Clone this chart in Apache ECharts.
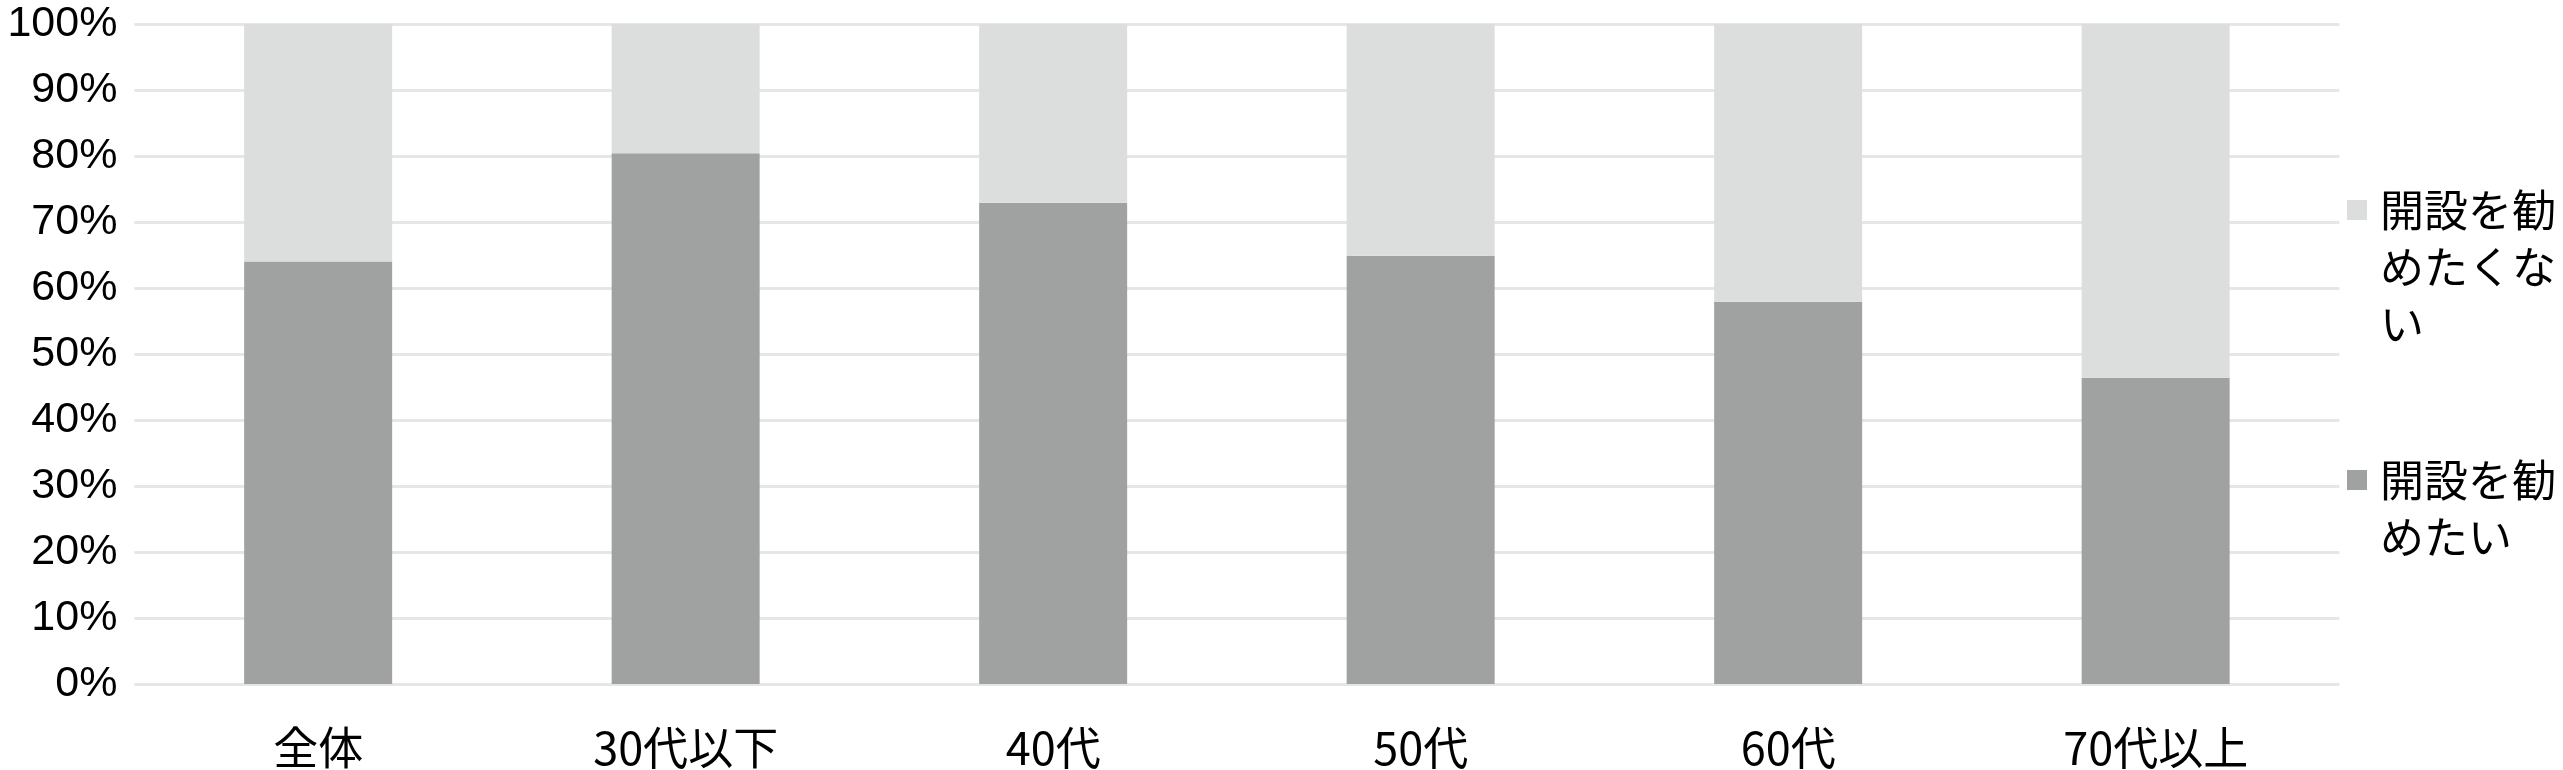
<!DOCTYPE html>
<html>
<head>
<meta charset="utf-8">
<script src="https://cdn.jsdelivr.net/npm/echarts@6/dist/echarts.min.js"></script>
<style>
html,body{margin:0;padding:0;background:#fff;}
#chart{width:2563px;height:770px;}
</style>
</head>
<body>
<div id="chart"></div>
<script>
const categories = ['全体', '30代以下', '40代', '50代', '60代', '70代以上'];
const recommendName = '開設を勧めたい';
const notRecommendName = '開設を勧めたくない';
const recommendValues = [64.0, 80.4, 72.9, 64.9, 57.9, 46.4];
const notRecommendValues = [36.0, 19.6, 27.1, 35.1, 42.1, 53.6];
const yTickMin = 0, yTickMax = 100, yTickStep = 10;

const darkGray = '#a0a2a1';
const lightGray = '#dcdedd';
const gridColor = '#e6e6e6';

const chart = echarts.init(document.getElementById('chart'), null, {renderer: 'canvas'});
const legendText = {
  fontFamily: '"Noto Sans CJK JP", sans-serif',
  fontSize: 44,
  color: '#000',
  lineHeight: 57,
  width: 182,
  overflow: 'breakAll',
  padding: [0, 0, 0, 8]
};
chart.setOption({
  animation: false,
  backgroundColor: '#ffffff',
  grid: {left: 134.4, right: 223.6, top: 24, bottom: 83.3, containLabel: false},
  legend: [
    {
      orient: 'vertical', left: 2347, top: 181.5, padding: 0,
      itemWidth: 20, itemHeight: 134,
      icon: 'path://M0,0L20,0L20,20L0,20Z M0,134',
      data: [notRecommendName],
      textStyle: legendText
    },
    {
      orient: 'vertical', left: 2347, top: 451.5, padding: 0,
      itemWidth: 20, itemHeight: 77,
      icon: 'path://M0,0L20,0L20,20L0,20Z M0,77',
      data: [recommendName],
      textStyle: legendText
    }
  ],
  xAxis: {
    type: 'category',
    data: categories,
    axisLine: {show: false},
    axisTick: {show: false},
    axisLabel: {
      margin: 41,
      color: '#000',
      fontFamily: '"Noto Sans CJK JP", sans-serif',
      fontSize: 45,
      lineHeight: 45
    }
  },
  yAxis: {
    type: 'value',
    min: yTickMin, max: yTickMax, interval: yTickStep,
    axisLine: {show: false},
    axisTick: {show: false},
    splitLine: {lineStyle: {color: gridColor, width: 3}},
    axisLabel: {
      margin: 17,
      color: '#000',
      fontFamily: '"Liberation Sans", Arial, sans-serif',
      fontSize: 43,
      formatter: '{value}%'
    }
  },
  series: [
    {
      name: recommendName, type: 'bar', stack: 'total', barWidth: 148,
      itemStyle: {color: darkGray},
      data: recommendValues
    },
    {
      name: notRecommendName, type: 'bar', stack: 'total', barWidth: 148,
      itemStyle: {color: lightGray},
      data: notRecommendValues
    }
  ]
});
</script>
</body>
</html>
